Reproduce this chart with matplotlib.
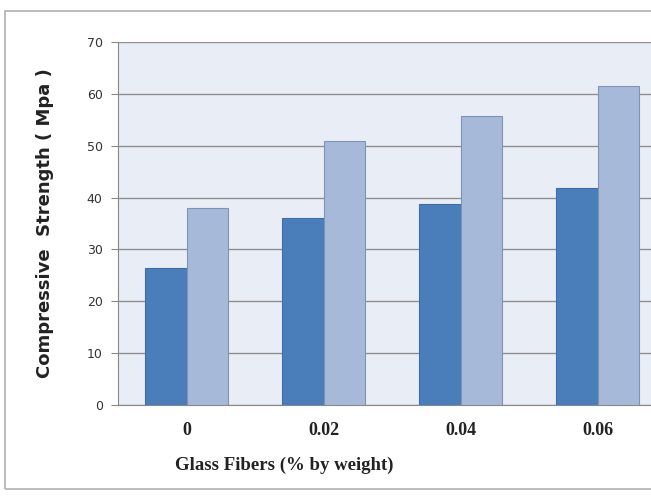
import numpy as np
from matplotlib import pyplot as plt
from matplotlib.patches import Rectangle

fibras = ["0", "0.02", "0.04", "0.06"]
serie1 = [26.5, 36.0, 38.8, 41.8]
serie2 = [38.0, 51.0, 55.7, 61.5]

corEscura = "#4a7ebb"
corClara = "#a7b9d9"
fundo = "#e9eef6"

fig = plt.figure(figsize=(6.51, 4.98), dpi=100)
fig.patches.append(Rectangle((5 / 651, 0.018), 1.05, 1 - 11 / 498 - 0.018,
                             transform=fig.transFigure, fill=False,
                             edgecolor="#b0b0b0", linewidth=1.2))

ax = fig.add_axes([118 / 651, 1 - 405 / 498, 548 / 651, 363 / 498])
ax.set_facecolor(fundo)

x = np.arange(len(fibras))
largura = 0.3
ax.bar(x - largura / 2, serie1, largura, color=corEscura,
       edgecolor="#3d6ea8", linewidth=0.8, zorder=3)
ax.bar(x + largura / 2, serie2, largura, color=corClara,
       edgecolor="#7f93b5", linewidth=0.8, zorder=3)

ax.set_xlim(-0.5, 3.5)
ax.set_ylim(0, 70)
ax.set_yticks(range(0, 71, 10))
ax.yaxis.grid(True, color="#8f8f8f", linewidth=1.0, zorder=0)
ax.set_axisbelow(True)

ax.set_xticks(x)
ax.set_xticklabels(fibras, fontfamily="Liberation Serif", fontweight="bold",
                   fontsize=13, color="#222222")
for lab in ax.get_yticklabels():
    lab.set_fontsize(9)
    lab.set_color("#333333")
ax.tick_params(axis="x", length=0, pad=12)
ax.tick_params(axis="y", length=5, color="#888888", pad=6)

for lado in ["top", "right"]:
    ax.spines[lado].set_visible(False)
ax.spines["left"].set_color("#888888")
ax.spines["bottom"].set_color("#888888")

ax.set_xlabel("Glass Fibers (% by weight)", fontfamily="Liberation Serif",
              fontweight="bold", fontsize=13.5, color="#222222")
ax.xaxis.set_label_coords((284 - 118) / 548, -(457 - 405) / 363)
ax.set_ylabel("Compressive  Strength ( Mpa )", fontweight="bold",
              fontsize=13, color="#222222")
ax.yaxis.set_label_coords(-(118 - 54) / 548, 0.5)

fig.savefig("out.png", dpi=100)
